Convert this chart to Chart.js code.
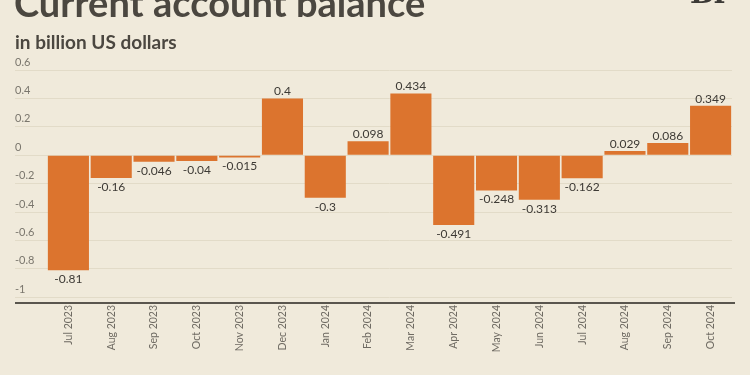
<!DOCTYPE html>
<html>
<head>
<meta charset="utf-8">
<script src="https://cdn.jsdelivr.net/npm/chart.js@4.4.1/dist/chart.umd.min.js"></script>
<style>
  html, body { margin: 0; padding: 0; background: #f0eadb; }
  #wrap { position: relative; width: 750px; height: 375px; overflow: hidden; background: #f0eadb; }
  #title { position: absolute; left: 14px; top: -17px; font: bold 38px Lato; line-height: 38px; color: #4b4740; white-space: nowrap; }
  #subtitle { position: absolute; left: 15px; top: 32px; font: bold 19px Lato; line-height: 19px; color: #4b4740; white-space: nowrap; }
  #logo { position: absolute; left: 690px; top: -20px; font: bold 28px "DejaVu Serif"; line-height: 28px; color: #3c3a36; }
  canvas { position: absolute; left: 0; top: 0; }
</style>
</head>
<body>
<div id="wrap">
  <canvas id="chartBalance" width="750" height="375"></canvas>
  <div id="title">Current account balance</div>
  <div id="subtitle">in billion US dollars</div>
  <div id="logo">Br</div>
</div>
<script>
// monthly current account balance, billion USD
const months = ['Jul 2023', 'Aug 2023', 'Sep 2023', 'Oct 2023', 'Nov 2023', 'Dec 2023', 'Jan 2024', 'Feb 2024',
  'Mar 2024', 'Apr 2024', 'May 2024', 'Jun 2024', 'Jul 2024', 'Aug 2024', 'Sep 2024', 'Oct 2024'];
const balance = [-0.81, -0.16, -0.046, -0.04, -0.015, 0.4, -0.3, 0.098,
  0.434, -0.491, -0.248, -0.313, -0.162, 0.029, 0.086, 0.349];
const yTicks = [0.6, 0.4, 0.2, 0, -0.2, -0.4, -0.6, -0.8, -1];
const yMin = -1.04;
const yMax = 0.6;

/**
 * Value labels above / below each bar
 */
const barLabels = {
  id: 'barLabels',
  afterDatasetsDraw(chart) {
    const ctx = chart.ctx;
    const meta = chart.getDatasetMeta(0);
    ctx.save();
    ctx.font = '12px Lato';
    ctx.fillStyle = '#3d3a35';
    ctx.textAlign = 'center';
    ctx.textBaseline = 'middle';
    meta.data.forEach((bar, i) => {
      const v = balance[i];
      const y = v >= 0 ? bar.y - 7 : bar.y + 9;
      ctx.fillText(String(v), bar.x, y);
    });
    ctx.restore();
  }
};

/**
 * Dark base line under the plot, running the full width like the grid
 */
const baseLine = {
  id: 'baseLine',
  afterDraw(chart) {
    const ctx = chart.ctx;
    const y = Math.round(chart.scales.y.getPixelForValue(yMin));
    ctx.save();
    ctx.strokeStyle = '#5a564e';
    ctx.lineWidth = 2;
    ctx.beginPath();
    ctx.moveTo(chart.scales.y.left, y);
    ctx.lineTo(chart.chartArea.right + 3, y);
    ctx.stroke();
    ctx.restore();
  }
};

const ctx = document.getElementById('chartBalance').getContext('2d');

const chart = new Chart(ctx, {
  type: 'bar',
  data: {
    labels: months,
    datasets: [{
      label: 'Current account balance',
      data: balance,
      backgroundColor: '#dc742e',
      borderWidth: 0,
      barPercentage: 0.96,
      categoryPercentage: 1
    }]
  },
  options: {
    responsive: false,
    animation: false,
    layout: { padding: { left: 15, right: 18, top: 70, bottom: 0 } },
    plugins: {
      legend: { display: false },
      tooltip: { enabled: false }
    },
    scales: {
      x: {
        grid: { display: false },
        border: { display: false },
        ticks: {
          minRotation: 90,
          maxRotation: 90,
          autoSkip: false,
          padding: -6,
          color: '#6e6a62',
          font: { family: 'Lato', size: 10.5 }
        },
        afterFit: s => { s.height = 72; }
      },
      y: {
        min: yMin,
        max: yMax,
        afterBuildTicks: s => { s.ticks = yTicks.map(v => ({ value: v })); },
        afterFit: s => { s.width = 32; },
        border: { display: false },
        grid: {
          tickLength: 32,
          color: '#e2dbc8',
          lineWidth: 1
        },
        ticks: {
          crossAlign: 'far',
          labelOffset: -8,
          padding: 0,
          color: '#7a766d',
          font: { family: 'Lato', size: 11 },
          callback: v => String(v)
        }
      }
    }
  },
  plugins: [barLabels, baseLine]
});
</script>
</body>
</html>
